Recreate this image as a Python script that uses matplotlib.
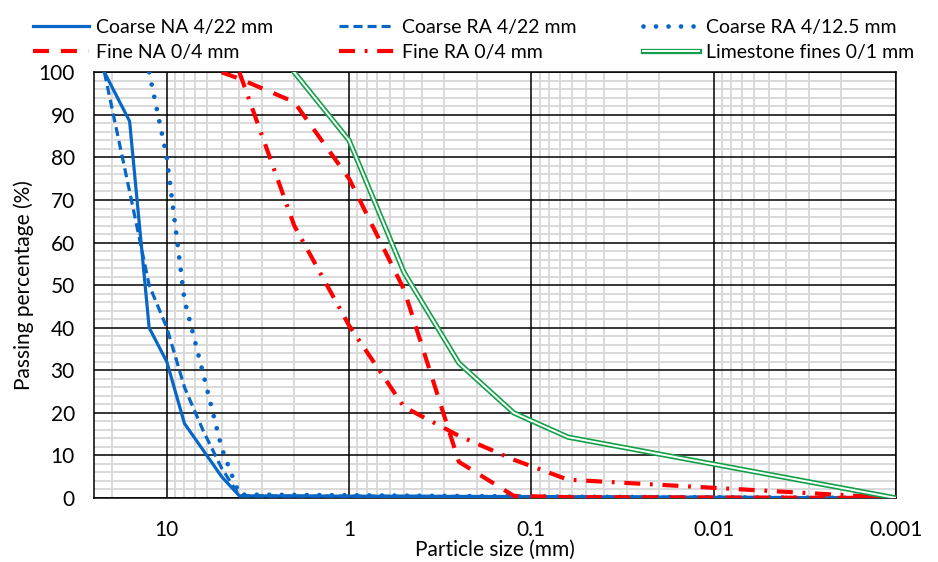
import matplotlib
matplotlib.use('Agg')
import matplotlib.pyplot as plt
from matplotlib.ticker import FixedLocator, LogLocator, NullFormatter, FixedFormatter

# sieve sizes (mm) and passing percentages
coarse_na_size = [22, 16, 12.5, 10, 8, 5, 4, 0.063, 0.001]
coarse_na_pass = [100, 88.5, 40, 32, 17.5, 5, 0.5, 0.3, 0]

coarse_ra22_size = [22, 16, 12.5, 10, 8, 6.3, 5, 4, 0.063, 0.001]
coarse_ra22_pass = [100, 72, 50, 40, 26, 15.7, 7, 0.5, 0.3, 0]

coarse_ra12_size = [12.5, 10, 8, 6.3, 5, 4, 0.063, 0.001]
coarse_ra12_pass = [100, 80, 46.5, 29, 11.7, 0.8, 0.3, 0]

fine_na_size = [5, 4, 2, 1, 0.5, 0.25, 0.125, 0.063, 0.001]
fine_na_pass = [100, 98.5, 93, 75, 49, 8.5, 0.5, 0.2, 0]

fine_ra_size = [4, 2, 1, 0.5, 0.25, 0.125, 0.063, 0.001]
fine_ra_pass = [100, 64, 40.5, 21.4, 14.6, 9, 4.3, 0]

limestone_size = [2, 1, 0.5, 0.25, 0.125, 0.063, 0.001]
limestone_pass = [100, 84, 53, 31.7, 20, 14.3, 0]

x_ticks = [10, 1, 0.1, 0.01, 0.001]
x_tick_labels = ['10', '1', '0.1', '0.01', '0.001']
y_ticks = list(range(0, 101, 10))
y_minor = [v for v in range(0, 101, 2) if v % 10]

BLUE = '#0866C6'
RED = '#FF0000'
GREEN = '#14A04A'
FS = 15

plt.rcParams['font.family'] = ['Lato', 'DejaVu Sans']
plt.rcParams['lines.scale_dashes'] = False

fig = plt.figure(figsize=(9.38, 5.62), dpi=100)
ax = fig.add_axes([0.1005, 0.1139, 0.8547, 0.7575])

ax.set_xscale('log')
ax.set_xlim(25, 0.001)
ax.set_ylim(0, 100)

# ticks and grid: grey minor lines below, black major lines above them
ax.xaxis.set_major_locator(FixedLocator(x_ticks))
ax.xaxis.set_major_formatter(FixedFormatter(x_tick_labels))
ax.xaxis.set_minor_locator(LogLocator(base=10, subs=range(2, 10), numticks=20))
ax.xaxis.set_minor_formatter(NullFormatter())
ax.set_yticks(y_ticks)
ax.set_yticks(y_minor, minor=True)
ax.grid(which='minor', color='#d9d9d9', lw=1.4)
ax.set_axisbelow(True)
for xv in x_ticks:
    ax.axvline(xv, color='black', lw=1.1, zorder=1)
for yv in y_ticks:
    ax.axhline(yv, color='black', lw=1.1, zorder=1)
ax.tick_params(which='both', length=0)
ax.tick_params(axis='x', pad=16, labelsize=FS)
ax.tick_params(axis='y', pad=14, labelsize=FS)
for s in ax.spines.values():
    s.set_color('black')
    s.set_linewidth(1.1)

# series
l1, = ax.plot(coarse_na_size, coarse_na_pass, color=BLUE, lw=2.3, zorder=3)
l2, = ax.plot(coarse_ra22_size, coarse_ra22_pass, color=BLUE, lw=2.3, ls=(0, (6.5, 3.6)), zorder=3)
l3, = ax.plot(coarse_ra12_size, coarse_ra12_pass, color=BLUE, lw=3.4, ls=(0, (0.01, 9.0)),
              dash_capstyle='round', zorder=3)
l4, = ax.plot(fine_na_size, fine_na_pass, color=RED, lw=3.0, ls=(0, (11.5, 8.6)), zorder=3)
l5, = ax.plot(fine_ra_size, fine_ra_pass, color=RED, lw=3.0, ls=(0, (11.5, 7, 2, 7)), zorder=3)
g_outer, = ax.plot(limestone_size, limestone_pass, color=GREEN, lw=3.8, zorder=3)
g_inner, = ax.plot(limestone_size, limestone_pass, color='white', lw=1.4, zorder=3)

ax.set_xlabel('Particle size (mm)', fontsize=FS, va='center')
ax.xaxis.set_label_coords(0.5, -0.121)
ax.set_ylabel('Passing percentage (%)', fontsize=FS, va='center')
ax.yaxis.set_label_coords(-0.088, 0.5)

handles = [l1, l4, l2, l5, l3, (g_outer, g_inner)]
labels = ['Coarse NA 4/22 mm', 'Fine NA 0/4 mm', 'Coarse RA 4/22 mm',
          'Fine RA 0/4 mm', 'Coarse RA 4/12.5 mm', 'Limestone fines 0/1 mm']
fig.legend(handles, labels, ncol=3, loc='center', bbox_to_anchor=(0.505, 0.929),
           frameon=False, fontsize=14, handlelength=2.88, handletextpad=0.36,
           columnspacing=3.4, labelspacing=0.4, borderpad=0)

fig.savefig('out.png', dpi=100)
